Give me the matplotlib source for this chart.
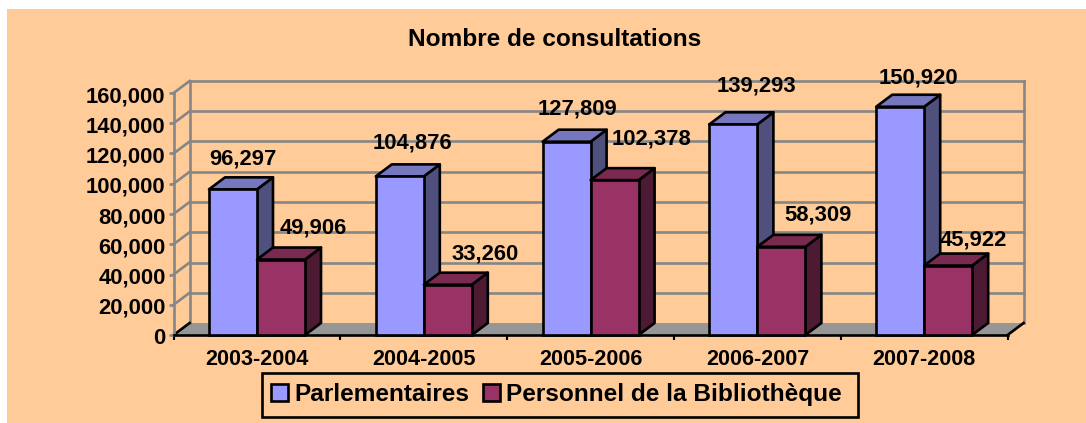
import matplotlib
matplotlib.use("Agg")
import matplotlib.pyplot as plt
from matplotlib.patches import Polygon, Patch, Rectangle
from matplotlib.transforms import ScaledTranslation

categories = ["2003-2004", "2004-2005", "2005-2006", "2006-2007", "2007-2008"]
parlementaires = [96297, 104876, 127809, 139293, 150920]
personnel = [49906, 33260, 102378, 58309, 45922]
series_names = ["Parlementaires", "Personnel de la Bibliothèque"]
title_text = "Nombre de consultations"
y_ticks = [0, 20000, 40000, 60000, 80000, 100000, 120000, 140000, 160000]

W, H = 1086, 423
plt.rcParams["font.family"] = ["Liberation Sans", "DejaVu Sans"]
plt.rcParams["font.weight"] = "bold"

BG = "#FFCC99"
GRID = "#868686"
FLOOR = "#969696"
BLUE = ("#9999FF", "#7777BF", "#50507F")
MAROON = ("#993366", "#7A2950", "#4D1A33")

fig = plt.figure(figsize=(W / 100, H / 100), dpi=100, facecolor="white")
fig.add_artist(Rectangle((7 / W, 0), 1 - 7 / W, 1 - 9 / H, transform=fig.transFigure, fc=BG, ec="none", zorder=-10))

x0, x1, ytop, ybot = 173.6, 1007.6, 93, 335
ax = fig.add_axes([x0 / W, 1 - ybot / H, (x1 - x0) / W, (ybot - ytop) / H])
ax.patch.set_visible(False)
ax.set_xlim(-0.5, 4.5)
ax.set_ylim(0, 160000)
for s in ["top", "right"]:
    ax.spines[s].set_visible(False)
LW = 1.9
ax.spines["left"].set_color(GRID)
ax.spines["left"].set_linewidth(LW)
ax.spines["bottom"].set_color("black")
ax.spines["bottom"].set_linewidth(LW)

# depth of the pseudo-3D box, in data units
px_x = 5 / (x1 - x0)
px_y = 160000 / (ybot - ytop)
DX = 16 * px_x
DY = 12 * px_y
BAR_W = 48 * px_x


def poly(pts, **kw):
    p = Polygon(pts, closed=True, clip_on=False, **kw)
    ax.add_patch(p)
    return p


# floor and walls
poly([(-0.5, 0), (4.5, 0), (4.5 + DX, DY), (-0.5 + DX, DY)], fc=FLOOR, ec="none", zorder=1)
ax.plot([-0.5, -0.5 + DX], [0, DY], color="black", lw=LW, clip_on=False, zorder=1.5)
ax.plot([4.5, 4.5 + DX], [0, DY], color="black", lw=LW, clip_on=False, zorder=1.5)
for t in y_ticks:
    if t > 0:
        ax.plot([-0.5, -0.5 + DX], [t, t + DY], color=GRID, lw=LW, clip_on=False, zorder=1)
        ax.plot([-0.5 + DX, 4.5 + DX], [t + DY, t + DY], color=GRID, lw=LW, clip_on=False, zorder=1)
for xb in (-0.5 + DX, 4.5 + DX):
    ax.plot([xb, xb], [DY, 160000 + DY], color=GRID, lw=LW, clip_on=False, zorder=1)


def bar3d(x, v, cols, z):
    kw = dict(ec="black", lw=LW, joinstyle="round", zorder=z)
    l, r = x - BAR_W / 2, x + BAR_W / 2
    poly([(r, 0), (r + DX, DY), (r + DX, v + DY), (r, v)], fc=cols[2], **kw)
    poly([(l, v), (r, v), (r + DX, v + DY), (l + DX, v + DY)], fc=cols[1], **kw)
    ax.bar(x, v, width=BAR_W, color=cols[0], edgecolor="black", linewidth=LW, zorder=z, clip_on=False)


for i in range(len(categories)):
    bar3d(i - BAR_W / 2, parlementaires[i], BLUE, 3 + i)
    bar3d(i + BAR_W / 2, personnel[i], MAROON, 3.5 + i)

# data labels: offsets from the bar's front-top centre, in pixels
blue_off = [(9.5, 30), (13, 33), (11, 33), (23, 38), (18, 29)]
maroon_off = [(32, 32), (37, 31), (37, 41), (37, 32), (25, 26)]
LABEL_FS = 15.8
for i in range(len(categories)):
    for vals, offs, sign in ((parlementaires, blue_off, -1), (personnel, maroon_off, 1)):
        ax.annotate(f"{vals[i]:,}", (i + sign * BAR_W / 2, vals[i]), xytext=(offs[i][0] * 0.72, offs[i][1] * 0.72),
                    textcoords="offset points", ha="center", va="center", fontsize=LABEL_FS,
                    annotation_clip=False, zorder=20, color="black")

ax.set_xticks([i - 0.5 for i in range(6)])
ax.set_xticklabels([])
ax.tick_params(axis="x", length=3.8, width=LW * 0.8, color="black", direction="out")
ax.set_yticks(y_ticks)
ax.set_yticklabels([f"{t:,}" for t in y_ticks], fontsize=LABEL_FS)
ax.tick_params(axis="y", length=3.6, width=LW, color=GRID, pad=2.2)
nudge = ScaledTranslation(0, -1 / 100, fig.dpi_scale_trans)
for lbl in ax.get_yticklabels():
    lbl.set_transform(lbl.get_transform() + nudge)
for t, lab in zip(ax.yaxis.get_major_ticks(), y_ticks):
    if lab == 0:
        t.tick1line.set_color("black")
for i, c in enumerate(categories):
    ax.annotate(c, (i, 0), xytext=(0, -24 * 0.72), textcoords="offset points", ha="center", va="center",
                fontsize=15.6, annotation_clip=False)

fig.text(554.5 / W, 1 - 39.5 / H, title_text, ha="center", va="center", fontsize=17.6)

# legend box is a little wider on its right side than its contents
fig.add_artist(Rectangle((262 / W, 1 - 417 / H), 596 / W, 44 / H, transform=fig.transFigure,
                         fc=BG, ec="black", lw=LW, zorder=4))
handles = [Patch(fc=BLUE[0], ec="black", lw=LW), Patch(fc=MAROON[0], ec="black", lw=LW)]
leg = fig.legend(handles, series_names, loc="center", bbox_to_anchor=(556.3 / W, 1 - 394.5 / H), ncol=2, fontsize=17.6,
                 frameon=False, handlelength=0.7, handleheight=0.7, handletextpad=0.25, columnspacing=0.57,
                 borderpad=0.33, borderaxespad=0)
leg.set_zorder(5)

fig.savefig("out.png", dpi=100, facecolor=fig.get_facecolor())
